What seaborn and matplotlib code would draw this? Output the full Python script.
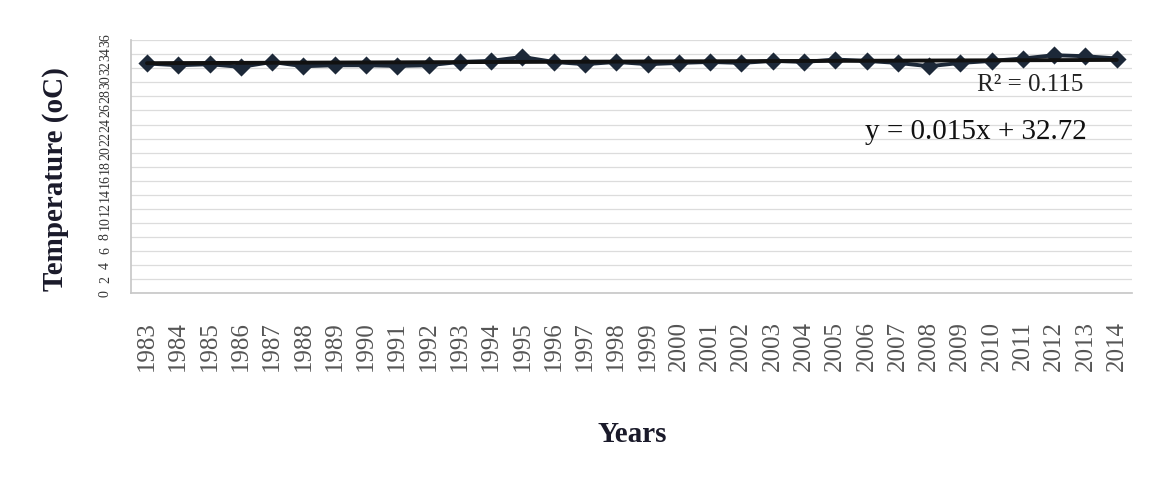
import numpy as np
import pandas as pd
import matplotlib
matplotlib.use("Agg")
import matplotlib.pyplot as plt
import seaborn as sns

# data
years = [str(y) for y in range(1983, 2015)]
temps = [32.69, 32.44, 32.59, 32.20, 32.91, 32.30, 32.44, 32.44, 32.34, 32.44,
         32.91, 33.06, 33.62, 32.91, 32.59, 32.91, 32.59, 32.77, 32.91, 32.77,
         33.06, 32.91, 33.25, 33.06, 32.77, 32.30, 32.77, 33.06, 33.40, 33.87,
         33.72, 33.40]
trend_slope = 0.015
trend_intercept = 32.72
r_squared = 0.115
y_ticks = list(range(0, 37, 2))

df = pd.DataFrame({"Year": years, "Temperature": temps})

sns.set_theme(style="white")
plt.rcParams["font.family"] = ["Liberation Serif", "DejaVu Serif"]

fig = plt.figure(figsize=(11.52, 4.79), dpi=100)
ax = fig.add_axes([0.114, 0.388, 0.869, 0.528])

# faint horizontal gridlines like the Excel original
for t in y_ticks:
    ax.axhline(t, color="#dcdcdc", linewidth=0.9, zorder=0)

sns.pointplot(data=df, x="Year", y="Temperature", color="#1c2838",
              marker="D", markersize=7, linewidth=2.8, errorbar=None, ax=ax)

# linear trendline from the printed equation (x = 1..n)
pos = np.arange(len(years))
ax.plot(pos, trend_slope * (pos + 1) + trend_intercept, color="#111111",
        linewidth=2.8, zorder=3)

ax.set_xlim(-0.5, len(years) - 0.5)
ax.set_ylim(0, 36)
ax.set_yticks(y_ticks)
ax.set_yticklabels([str(t) for t in y_ticks], rotation=90, fontsize=10,
                   color="#333333", va="center")
ax.set_xticks(pos)
ax.set_xticklabels(years, rotation=90, fontsize=18, color="#555555")
ax.tick_params(axis="x", length=0, pad=20)
ax.tick_params(axis="y", length=0, pad=14)

for side in ["top", "right"]:
    ax.spines[side].set_visible(False)
ax.spines["left"].set_color("#c8c8c8")
ax.spines["bottom"].set_color("#c8c8c8")

ax.set_xlabel("Years", fontsize=21, fontweight="bold", color="#1a1a2a", labelpad=36)
ax.set_ylabel("Temperature (oC)", fontsize=21, fontweight="bold", color="#1a1a2a")
ax.yaxis.set_label_coords(-0.062, 0.45)

ax.text(0.898, 0.822, f"R² = {r_squared:.3f}",
        transform=ax.transAxes, ha="center", va="center", fontsize=18, color="#222222")
ax.text(0.844, 0.636, f"y = {trend_slope:.3f}x + {trend_intercept:.2f}",
        transform=ax.transAxes, ha="center", va="center", fontsize=21, color="#111111")

fig.savefig("out.png", dpi=100, facecolor="white")
